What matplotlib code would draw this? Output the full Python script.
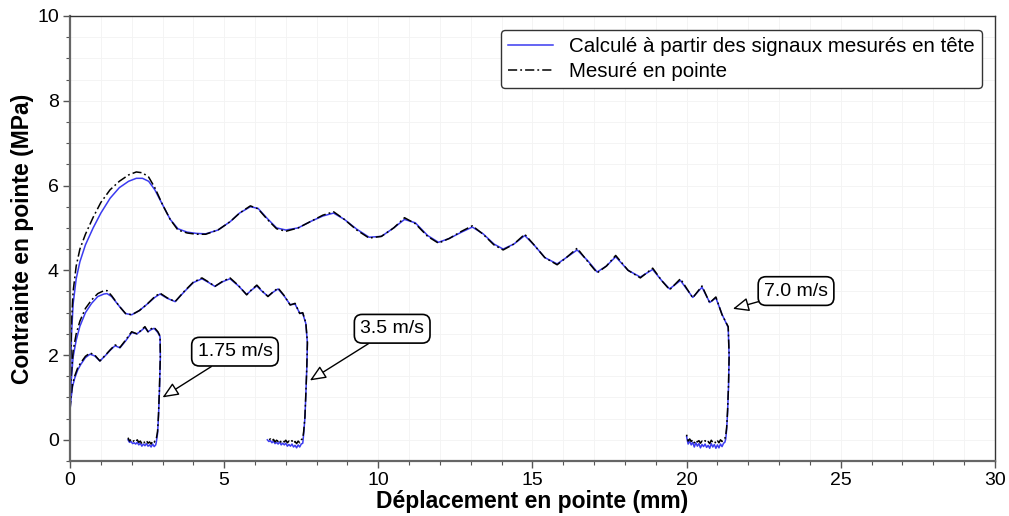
import matplotlib
matplotlib.use('Agg')
import matplotlib.pyplot as plt
from matplotlib.ticker import MultipleLocator

plt.rcParams['font.family'] = ['Liberation Sans', 'DejaVu Sans']

# --- 1.75 m/s ---
x_175 = [0, 0.03, 0.08, 0.15, 0.25, 0.35, 0.5, 0.65, 0.8, 0.97, 1.15, 1.3, 1.46, 1.62, 1.8,
         2.0, 2.17, 2.3, 2.43, 2.53, 2.63, 2.73, 2.85, 2.92, 2.93, 2.9, 2.87, 2.84, 2.8]
y_175_mes = [0.7, 1.0, 1.3, 1.5, 1.7, 1.82, 1.97, 2.05, 2.0, 1.86, 2.0, 2.12, 2.24, 2.18, 2.35,
             2.55, 2.5, 2.58, 2.67, 2.55, 2.62, 2.65, 2.55, 2.45, 2.0, 1.2, 0.6, 0.2, 0.03]
y_175_calc = [0.7, 0.95, 1.25, 1.45, 1.65, 1.78, 1.94, 2.02, 1.98, 1.86, 1.99, 2.11, 2.22, 2.17, 2.33,
              2.53, 2.5, 2.57, 2.65, 2.55, 2.6, 2.63, 2.53, 2.43, 1.95, 1.15, 0.55, 0.15, -0.05]
xr_175 = [2.78, 2.73, 2.68, 2.63, 2.58, 2.53, 2.48, 2.43, 2.38, 2.33, 2.28, 2.23, 2.18, 2.13,
          2.08, 2.03, 1.98, 1.93, 1.88]
yr_175_mes = [0.02, -0.06, -0.03, -0.1, -0.05, -0.08, -0.02, -0.07, -0.04, -0.09, -0.03, -0.06,
              0.0, -0.05, -0.02, -0.04, 0.01, -0.03, 0.05]
yr_175_calc = [-0.12, -0.16, -0.1, -0.17, -0.12, -0.15, -0.09, -0.14, -0.1, -0.15, -0.08, -0.12,
               -0.06, -0.1, -0.07, -0.09, -0.04, -0.06, 0.0]

# --- 3.5 m/s ---
x_35 = [0, 0.03, 0.1, 0.2, 0.32, 0.5, 0.7, 0.9, 1.1, 1.2, 1.35, 1.6, 1.8, 2.0, 2.25,
        2.5, 2.75, 2.92, 3.15, 3.41, 3.7, 4.0, 4.28, 4.5, 4.7, 4.95, 5.19, 5.45, 5.73, 5.9,
        6.06, 6.25, 6.42, 6.6, 6.75, 6.95, 7.14, 7.3, 7.45, 7.55, 7.65, 7.7, 7.68, 7.65, 7.62,
        7.58, 7.55]
y_35_mes = [0.7, 1.4, 2.1, 2.5, 2.8, 3.1, 3.3, 3.45, 3.52, 3.52, 3.4, 3.15, 2.98, 2.95, 3.05,
            3.2, 3.38, 3.46, 3.35, 3.26, 3.5, 3.72, 3.82, 3.72, 3.62, 3.74, 3.82, 3.65, 3.42, 3.55,
            3.65, 3.5, 3.38, 3.5, 3.58, 3.4, 3.18, 3.22, 2.98, 3.0, 2.75, 2.3, 1.7, 1.1, 0.55,
            0.2, 0.03]
y_35_calc = [0.7, 1.3, 1.95, 2.35, 2.68, 3.0, 3.22, 3.38, 3.44, 3.45, 3.38, 3.15, 2.98, 2.95, 3.05,
             3.2, 3.36, 3.44, 3.34, 3.26, 3.49, 3.71, 3.8, 3.71, 3.62, 3.73, 3.8, 3.64, 3.43, 3.54,
             3.63, 3.49, 3.39, 3.49, 3.56, 3.39, 3.19, 3.2, 2.99, 2.98, 2.74, 2.28, 1.68, 1.08, 0.52,
             0.15, -0.08]
xr_35 = [7.5, 7.45, 7.4, 7.35, 7.3, 7.25, 7.2, 7.15, 7.1, 7.05, 7.0, 6.95, 6.9, 6.85, 6.8,
         6.75, 6.7, 6.65, 6.6, 6.55, 6.5, 6.45, 6.4]
yr_35_mes = [0.0, -0.07, -0.03, -0.09, -0.04, -0.08, -0.02, -0.06, -0.03, -0.07, -0.01, -0.05,
             -0.02, -0.06, 0.0, -0.04, -0.01, -0.05, 0.01, -0.03, 0.02, 0.0, 0.05]
yr_35_calc = [-0.1, -0.17, -0.12, -0.19, -0.13, -0.17, -0.1, -0.15, -0.11, -0.15, -0.08, -0.12,
              -0.08, -0.12, -0.05, -0.1, -0.06, -0.09, -0.03, -0.07, -0.02, -0.04, 0.0]

# --- 7.0 m/s ---
x_70 = [0, 0.02, 0.05, 0.1, 0.2, 0.32, 0.5, 0.75, 1.0, 1.3, 1.6, 1.9, 2.15, 2.35, 2.55,
        2.75, 3.0, 3.25, 3.5, 3.8, 4.1, 4.4, 4.8, 5.2, 5.5, 5.85, 6.1, 6.4, 6.7, 7.0,
        7.4, 7.8, 8.2, 8.55, 8.9, 9.3, 9.7, 10.1, 10.5, 10.85, 11.2, 11.6, 11.95, 12.3, 12.7,
        13.05, 13.4, 13.75, 14.05, 14.4, 14.75, 15.05, 15.4, 15.8, 16.1, 16.45, 16.8, 17.1, 17.4, 17.7,
        18.1, 18.5, 18.9, 19.2, 19.45, 19.8, 20.2, 20.5, 20.75, 20.95, 21.15, 21.35, 21.38, 21.36, 21.33,
        21.3, 21.27, 21.24]
y_70_mes = [0.7, 1.8, 2.8, 3.5, 4.1, 4.5, 4.85, 5.25, 5.6, 5.9, 6.1, 6.25, 6.32, 6.3, 6.2,
            5.95, 5.55, 5.2, 4.95, 4.88, 4.85, 4.85, 4.95, 5.15, 5.35, 5.52, 5.45, 5.2, 4.98, 4.92,
            5.0, 5.15, 5.3, 5.38, 5.2, 4.95, 4.76, 4.8, 5.0, 5.24, 5.1, 4.8, 4.64, 4.75, 4.92,
            5.05, 4.85, 4.6, 4.48, 4.62, 4.85, 4.6, 4.3, 4.13, 4.3, 4.52, 4.2, 3.94, 4.1, 4.35,
            4.0, 3.82, 4.05, 3.75, 3.54, 3.8, 3.35, 3.63, 3.23, 3.37, 2.95, 2.67, 2.0, 1.3, 0.7,
            0.3, 0.1, 0.03]
y_70_calc = [0.7, 1.6, 2.5, 3.2, 3.8, 4.2, 4.6, 5.0, 5.35, 5.7, 5.95, 6.1, 6.17, 6.17, 6.1,
             5.9, 5.55, 5.2, 4.98, 4.9, 4.87, 4.86, 4.95, 5.15, 5.35, 5.5, 5.46, 5.22, 5.0, 4.95,
             5.0, 5.15, 5.28, 5.35, 5.2, 4.97, 4.78, 4.8, 5.0, 5.2, 5.12, 4.82, 4.66, 4.75, 4.9,
             5.02, 4.86, 4.62, 4.5, 4.62, 4.82, 4.6, 4.3, 4.15, 4.3, 4.48, 4.22, 3.96, 4.1, 4.32,
             4.0, 3.84, 4.02, 3.75, 3.56, 3.76, 3.36, 3.6, 3.24, 3.35, 2.96, 2.65, 1.95, 1.25, 0.65,
             0.25, 0.02, -0.06]
xr_70 = [21.2, 21.15, 21.1, 21.05, 21.0, 20.95, 20.9, 20.85, 20.8, 20.75, 20.7, 20.65, 20.6,
         20.55, 20.5, 20.45, 20.4, 20.35, 20.3, 20.25, 20.2, 20.15, 20.1, 20.05, 20.02, 20.0]
yr_70_mes = [0.02, -0.04, 0.0, -0.07, -0.02, -0.08, -0.03, -0.06, -0.01, -0.09, -0.04, -0.07,
             -0.02, -0.06, -0.03, -0.08, -0.02, -0.05, -0.01, -0.07, 0.0, -0.04, 0.02, -0.03, 0.05, 0.12]
yr_70_calc = [-0.08, -0.16, -0.1, -0.19, -0.12, -0.2, -0.11, -0.17, -0.09, -0.2, -0.13, -0.18,
              -0.1, -0.16, -0.11, -0.19, -0.09, -0.15, -0.07, -0.17, -0.06, -0.12, -0.03, -0.1, 0.0, 0.08]

tests = [
    (x_175, y_175_mes, y_175_calc, xr_175, yr_175_mes, yr_175_calc),
    (x_35, y_35_mes, y_35_calc, xr_35, yr_35_mes, yr_35_calc),
    (x_70, y_70_mes, y_70_calc, xr_70, yr_70_mes, yr_70_calc),
]

labels_v = ["1.75 m/s", "3.5 m/s", "7.0 m/s"]
label_pos = [(5.35, 2.08), (10.45, 2.62), (23.55, 3.51)]
arrow_tip = [(3.0, 1.0), (7.78, 1.4), (21.5, 3.09)]

blue = '#3b3bf0'

fig = plt.figure(figsize=(10.09, 5.16), dpi=100)
ax = fig.add_axes([0.0694, 0.1066, 0.9166, 0.8624])

for i, (x, ym, yc, xr, yrm, yrc) in enumerate(tests):
    ax.plot(x + xr, yc + yrc, color=blue, lw=1.1,
            label='Calculé à partir des signaux mesurés en tête' if i == 0 else None)
    ax.plot(x + xr, ym + yrm, color='black', lw=1.1, ls=(0, (6, 2, 1.2, 2)),
            label='Mesuré en pointe' if i == 0 else None)

for txt, pos, tip in zip(labels_v, label_pos, arrow_tip):
    ax.annotate(txt, xy=tip, xytext=pos, fontsize=14, ha='center', va='center',
                bbox=dict(boxstyle='round,pad=0.3,rounding_size=0.4', fc='white', ec='black', lw=1.2),
                arrowprops=dict(arrowstyle='-|>,head_length=0.7,head_width=0.3', fc='white',
                                ec='black', lw=1.0, shrinkA=0, shrinkB=0))

ax.set_xlim(0, 30)
ax.set_ylim(-0.5, 10)
ax.xaxis.set_major_locator(MultipleLocator(5))
ax.xaxis.set_minor_locator(MultipleLocator(1))
ax.yaxis.set_major_locator(MultipleLocator(2))
ax.yaxis.set_minor_locator(MultipleLocator(0.5))
ax.grid(which='both', color='#f3f3f3', lw=0.6)
ax.set_axisbelow(True)
ax.tick_params(which='major', length=5, width=1, labelsize=14, color='#555555', pad=3)
ax.tick_params(which='minor', length=3, width=0.8, color='#555555')
for s in ax.spines.values():
    s.set_color('#333333')
    s.set_linewidth(1.0)
for s in ['left', 'bottom']:
    ax.spines[s].set_color('#666666')
    ax.spines[s].set_linewidth(1.6)

ax.set_xlabel('Déplacement en pointe (mm)', fontsize=16.5, fontweight='bold', labelpad=1)
ax.set_ylabel('Contrainte en pointe (MPa)', fontsize=16.5, fontweight='bold', labelpad=2)

leg = ax.legend(loc='upper right', fontsize=14.8, frameon=True, fancybox=True,
                edgecolor='#333333', framealpha=1, handlelength=2.2, borderpad=0.35,
                labelspacing=0.3, bbox_to_anchor=(0.9975, 0.992))
leg.get_frame().set_linewidth(1.0)

fig.savefig('out.png', dpi=100, facecolor='white')
